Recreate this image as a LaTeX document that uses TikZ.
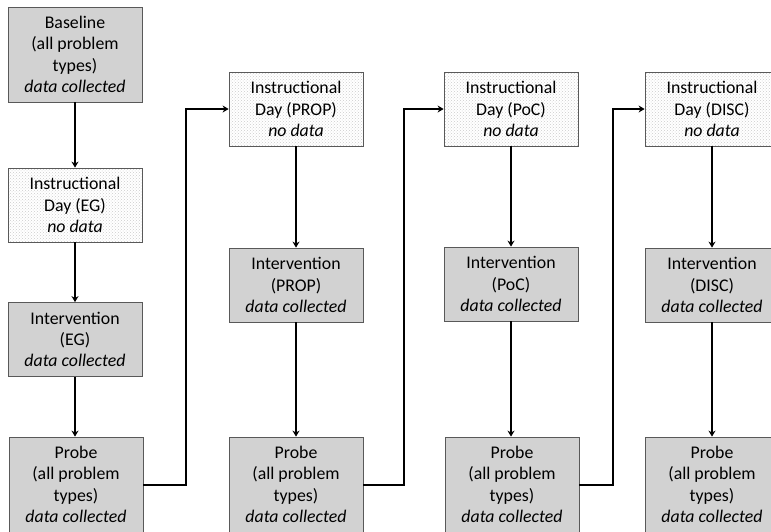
\documentclass[tikz,border=0pt]{standalone}
\usepackage{fontspec}
\setmainfont{Carlito}
\usepackage{tikz}
\usetikzlibrary{positioning,arrows.meta,patterns}
\def\dc{\textit{data collected}}
\def\nd{\textit{no data}}

\begin{document}
\begin{tikzpicture}[>={Stealth[width=7pt,length=6pt]}, flow/.style={line width=2pt, ->},
	box/.style={draw=black!65, line width=0.8pt, minimum width=134pt, inner sep=0pt, align=center, font=\fontsize{17.8pt}{21.3pt}\selectfont},
	collected/.style={box, fill=gray!35},
	instday/.style={box, pattern=crosshatch dots, pattern color=gray!40, minimum height=74pt},
	short/.style={collected, minimum height=74pt},
	tall/.style={collected, minimum height=95pt}]
	\useasboundingbox (0pt,0pt) rectangle (771pt,-531pt);
	\clip (0pt,0pt) rectangle (771pt,-531pt);
	% first column
	\draw (75pt, -54.5pt)node[tall](base){Baseline\\(all problem\\types)\\\dc};
	\draw (75pt, -205.0pt)node[instday](instEG){Instructional\\Day (EG)\\\nd};
	\draw (75pt, -339.5pt)node[short](intEG){Intervention\\(EG)\\\dc};
	\draw (76pt, -484.5pt)node[tall](probeEG){Probe\\(all problem\\types)\\\dc};
	% second column
	\draw (296pt, -109.0pt)node[instday](instPROP){Instructional\\Day (PROP)\\\nd};
	\draw (296pt, -285.0pt)node[short](intPROP){Intervention\\(PROP)\\\dc};
	\draw (296pt, -484.5pt)node[tall](probePROP){Probe\\(all problem\\types)\\\dc};
	% third column
	\draw (511pt, -109.0pt)node[instday](instPoC){Instructional\\Day (PoC)\\\nd};
	\draw (511pt, -284.0pt)node[short](intPoC){Intervention\\(PoC)\\\dc};
	\draw (512pt, -484.5pt)node[tall](probePoC){Probe\\(all problem\\types)\\\dc};
	% fourth column
	\draw (712pt, -109.0pt)node[instday](instDISC){Instructional\\Day (DISC)\\\nd};
	\draw (712pt, -285.0pt)node[short](intDISC){Intervention\\(DISC)\\\dc};
	\draw (712pt, -484.5pt)node[tall](probeDISC){Probe\\(all problem\\types)\\\dc};
	% arrows
	\path[flow] (base) edge (instEG);
	\path[flow] (instEG) edge (intEG);
	\path[flow] (intEG.south -| instEG.south) edge (probeEG.north -| instEG.south);
	\path[flow] (instPROP) edge (intPROP);
	\path[flow] (intPROP) edge (probePROP);
	\path[flow] (instPoC) edge (intPoC);
	\path[flow] (intPoC) edge (probePoC.north -| intPoC.south);
	\path[flow] (instDISC) edge (intDISC);
	\path[flow] (intDISC) edge (probeDISC);
	\draw[flow] (probeEG.east) -- ++(43pt,0pt) |- (instPROP.west);
	\draw[flow] (probePROP.east) -- ++(41pt,0pt) |- (instPoC.west);
	\draw[flow] (probePoC.east) -- ++(34pt,0pt) |- (instDISC.west);
\end{tikzpicture}
\end{document}
